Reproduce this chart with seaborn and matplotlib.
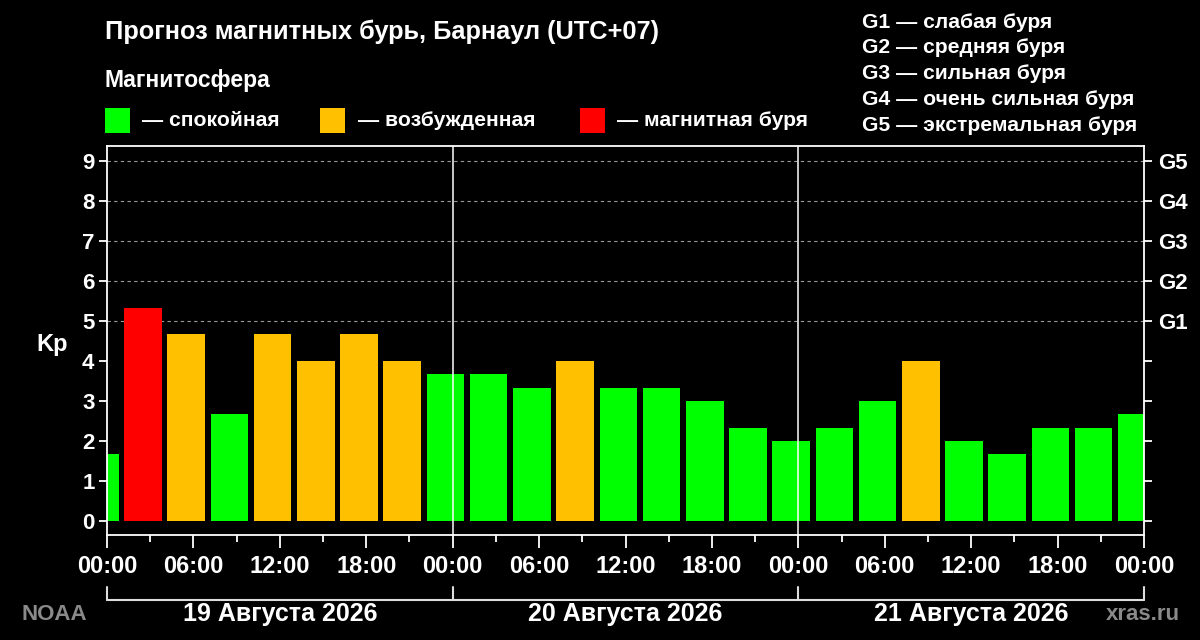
import numpy as np
import pandas as pd
import matplotlib
matplotlib.use("Agg")
import matplotlib.pyplot as plt
import matplotlib.transforms as mtransforms
from matplotlib.patches import Rectangle
from matplotlib.lines import Line2D
import seaborn as sns

# ---------------- data ----------------
title = "Прогноз магнитных бурь, Барнаул (UTC+07)"
subtitle = "Магнитосфера"
day_labels = ["19 Августа 2026", "20 Августа 2026", "21 Августа 2026"]
hour_labels = ["00:00", "06:00", "12:00", "18:00",
               "00:00", "06:00", "12:00", "18:00",
               "00:00", "06:00", "12:00", "18:00", "00:00"]
storm_levels = ["G1", "G2", "G3", "G4", "G5"]
storm_desc = ["слабая буря", "средняя буря", "сильная буря",
              "очень сильная буря", "экстремальная буря"]
status_names = ["спокойная", "возбужденная", "магнитная буря"]
status_colors = ["#00ff00", "#ffc000", "#ff0000"]
# local (UTC+07) start of each 3-hour Kp interval
interval_start = [
    "2026-08-18 22:00", "2026-08-19 01:00", "2026-08-19 04:00", "2026-08-19 07:00",
    "2026-08-19 10:00", "2026-08-19 13:00", "2026-08-19 16:00", "2026-08-19 19:00",
    "2026-08-19 22:00", "2026-08-20 01:00", "2026-08-20 04:00", "2026-08-20 07:00",
    "2026-08-20 10:00", "2026-08-20 13:00", "2026-08-20 16:00", "2026-08-20 19:00",
    "2026-08-20 22:00", "2026-08-21 01:00", "2026-08-21 04:00", "2026-08-21 07:00",
    "2026-08-21 10:00", "2026-08-21 13:00", "2026-08-21 16:00", "2026-08-21 19:00",
    "2026-08-21 22:00",
]
kp_values = [1.67, 5.33, 4.67, 2.67, 4.67, 4.00, 4.67, 4.00,
             3.67, 3.67, 3.33, 4.00, 3.33, 3.33, 3.00, 2.33,
             2.00, 2.33, 3.00, 4.00, 2.00, 1.67, 2.33, 2.33, 2.67]
origin = "2026-08-19 00:00"
interval_hours = 3

# ---------------- prep ----------------
starts = pd.to_datetime(interval_start)
mid_hours = (starts - pd.Timestamp(origin)) / pd.Timedelta(hours=1) + interval_hours / 2
kp = np.array(kp_values)
status = np.select([kp >= 5, kp >= 4], [status_names[2], status_names[1]], status_names[0])
df = pd.DataFrame({"hour": mid_hours, "kp": kp, "status": status})
palette = dict(zip(status_names, status_colors))

W, H = 1200, 640
sns.set_theme(style="dark")
plt.rcParams["font.family"] = ["Liberation Sans", "DejaVu Sans"]
plt.rcParams["font.weight"] = "bold"

fig = plt.figure(figsize=(12, 6.4), dpi=100, facecolor="black")
ax = fig.add_axes([107 / W, 1 - 535 / H, (1144 - 107) / W, (535 - 146) / H])
ax.set_facecolor("black")

total_hours = 24 * len(day_labels)

# storm level dashed lines
for lvl in range(5, 10):
    ax.axhline(lvl, color="#9a9a9a", lw=0.8, ls=(0, (3, 3)), zorder=1)

sns.barplot(data=df, x="hour", y="kp", hue="status", hue_order=status_names,
            palette=palette, native_scale=True, width=0.87, dodge=False,
            saturation=1, linewidth=0, legend=False, ax=ax, zorder=2)

for d in range(1, len(day_labels)):
    ax.axvline(24 * d, color="white", lw=1.1, zorder=3)

ax.set_xlim(0, total_hours)
ax.set_ylim(-0.35, 9.38)
ax.set_xlabel("")
ax.set_ylabel("")
ax.grid(False)

ax.set_xticks(np.arange(0, total_hours + 1, 6))
ax.set_xticklabels(hour_labels)
ax.set_xticks(np.arange(3, total_hours, 6), minor=True)
ax.set_yticks(range(10))
ax.set_yticklabels([str(i) for i in range(10)])

ax.tick_params(axis="x", which="major", direction="out", length=9.5, width=1.3,
               colors="white", labelsize=17, pad=5, bottom=True)
ax.tick_params(axis="x", which="minor", direction="out", length=5, width=1.3,
               colors="white", bottom=True)
ax.tick_params(axis="y", direction="out", length=6, width=1.3, colors="white",
               labelsize=16, pad=3, left=True)
for lab in ax.get_xticklabels() + ax.get_yticklabels():
    lab.set_fontweight("bold")

for sp in ax.spines.values():
    sp.set_visible(True)
    sp.set_color("white")
    sp.set_linewidth(1.3)

ax2 = ax.twinx()
ax2.set_ylim(ax.get_ylim())
ax2.set_yticks(range(10))
ax2.set_yticklabels([""] * 5 + storm_levels)
ax2.tick_params(axis="y", direction="out", length=6, width=1.3, colors="white",
                labelsize=16, pad=4, right=True)
for lab in ax2.get_yticklabels():
    lab.set_fontweight("bold")
ax2.grid(False)
for sp in ax2.spines.values():
    sp.set_visible(False)


def fx(x):
    return x / W


def fy(y):
    return 1 - y / H


# titles
fig.text(fx(105), fy(32), title, color="white", fontsize=18.3, fontweight="bold", va="center")
fig.text(fx(105), fy(80), subtitle, color="white", fontsize=16.5, fontweight="bold", va="center")

# status legend
sq_x = [105, 320, 580]
txt_x = [142, 358, 617]
for sx, tx, name, col in zip(sq_x, txt_x, status_names, status_colors):
    fig.patches.append(Rectangle((fx(sx), fy(133)), 25 / W, 25 / H,
                                 transform=fig.transFigure, color=col, lw=0))
    fig.text(fx(tx), fy(120), "— " + name, color="white", fontsize=15.2,
             fontweight="bold", va="center")

# storm legend
for i, (g, d) in enumerate(zip(storm_levels, storm_desc)):
    fig.text(fx(862), fy(22 + i * 25.8), f"{g} — {d}", color="white", fontsize=15.2,
             fontweight="bold", va="center")

# Kp label
fig.text(fx(52), fy(345), "Kp", color="white", fontsize=17, fontweight="bold",
         ha="center", va="center")

# day bracket
bt = mtransforms.blended_transform_factory(ax.transData, fig.transFigure)
fig.lines.append(Line2D([0, total_hours], [fy(600), fy(600)], transform=bt,
                        color="#dddddd", lw=1.5))
for d in range(len(day_labels) + 1):
    fig.lines.append(Line2D([24 * d, 24 * d], [fy(600), fy(587)], transform=bt,
                            color="#dddddd", lw=1.5))
for d, lab in enumerate(day_labels):
    fig.text(24 * d + 12, fy(614), lab, transform=bt, color="white", fontsize=18,
             fontweight="bold", ha="center", va="center")

fig.text(fx(21), fy(614), "NOAA", color="#8a8a8a", fontsize=16, fontweight="bold",
         va="center")
fig.text(fx(1180), fy(614), "xras.ru", color="#8a8a8a", fontsize=16, fontweight="bold",
         va="center", ha="right")

fig.savefig("out.png", dpi=100, facecolor="black")
